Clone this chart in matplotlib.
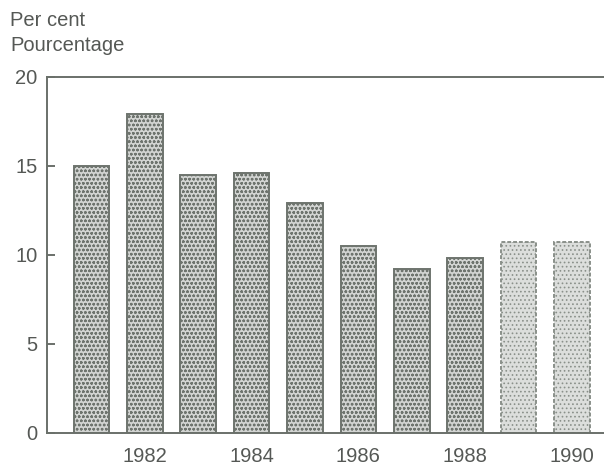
import matplotlib
matplotlib.use("Agg")
import matplotlib.pyplot as plt

plt.rcParams["font.family"] = ["Liberation Sans", "DejaVu Sans"]
plt.rcParams["hatch.color"] = "#8c928c"
plt.rcParams["hatch.linewidth"] = 0.7

years = [1981, 1982, 1983, 1984, 1985, 1986, 1987, 1988, 1989, 1990]
values = [15.0, 17.9, 14.5, 14.6, 12.9, 10.5, 9.2, 9.8, 10.7, 10.7]
year_labels = ["1982", "1984", "1986", "1988", "1990"]
y_ticks = [0, 5, 10, 15, 20]

text_col = "#555855"
axis_col = "#6a706a"
fs = 14.5

fig = plt.figure(figsize=(6.04, 4.66), dpi=100)
ax = fig.add_axes([0.078, 0.071, 0.922, 0.764])

pos = list(range(len(years)))
bars = ax.bar(pos, values, width=0.67, facecolor="#d2d4d2",
              edgecolor="#6e746e", linewidth=1.4, hatch="oooo")
# last two years drawn lighter in the original
for b in bars[-2:]:
    b.set_facecolor("#dcdedc")
    b.set_hatch("....")
    b.set_edgecolor("#8a908a")
    b.set_linestyle((0, (2, 1)))

ax.set_xlim(-0.83, 9.6)
ax.set_ylim(0, 20)
ax.set_yticks(y_ticks)
ax.set_xticks([years.index(int(y)) for y in year_labels])
ax.set_xticklabels(year_labels)

ax.spines["right"].set_visible(False)
for side in ["left", "top", "bottom"]:
    ax.spines[side].set_color(axis_col)
    ax.spines[side].set_linewidth(1.4)

ax.tick_params(axis="y", direction="in", length=6, width=1.4, color=axis_col,
               labelsize=fs, labelcolor=text_col, pad=7)
ax.tick_params(axis="x", length=0, labelsize=fs, labelcolor=text_col, pad=10)

fig.text(0.017, 0.957, "Per cent", fontsize=fs, color=text_col, va="center")
fig.text(0.017, 0.903, "Pourcentage", fontsize=fs, color=text_col, va="center")

fig.savefig("out.png", dpi=100)
